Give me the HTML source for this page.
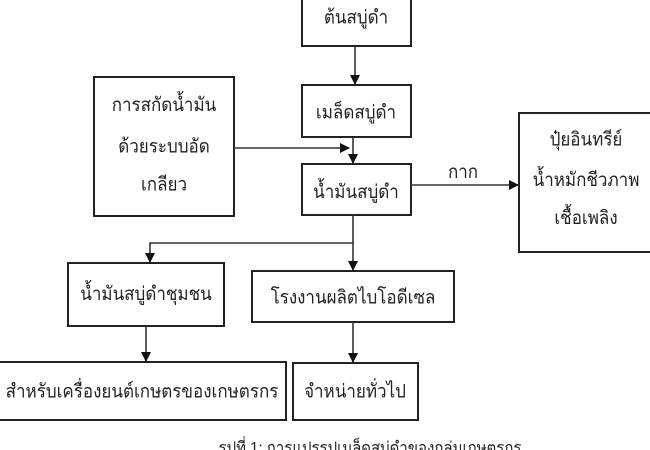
<!DOCTYPE html>
<html><head><meta charset="utf-8"><style>
html,body{margin:0;padding:0;background:#fff;width:650px;height:450px;overflow:hidden}
svg text{font-family:"Liberation Sans","Noto Sans CJK SC",sans-serif;font-size:17px;fill:#222;text-anchor:middle}
</style></head><body>
<svg width="650" height="450" viewBox="0 0 650 450" xmlns="http://www.w3.org/2000/svg">
<defs><marker id="a" markerWidth="10" markerHeight="10" refX="9" refY="5" orient="auto" markerUnits="userSpaceOnUse"><path d="M0,0 L10,5 L0,10 z" fill="#111"/></marker></defs>
<g fill="#fff" stroke="#222" stroke-width="2">
<rect x="302" y="-2" width="109" height="48"/>
<rect x="302" y="85" width="109" height="52"/>
<rect x="94" y="77" width="140" height="139"/>
<rect x="302" y="164" width="109" height="51"/>
<rect x="519" y="113" width="135" height="139"/>
<rect x="68" y="263" width="156" height="63"/>
<rect x="252" y="271" width="202" height="51"/>
<rect x="-2" y="362" width="288" height="58"/>
<rect x="293" y="363" width="125" height="57"/>
</g>
<g stroke="#333" stroke-width="1.6" fill="none">
<line x1="355" y1="46" x2="355" y2="84" marker-end="url(#a)"/>
<line x1="234" y1="148" x2="349" y2="148" marker-end="url(#a)"/>
<line x1="353" y1="137" x2="353" y2="163" marker-end="url(#a)"/>
<line x1="411" y1="185" x2="518" y2="185" marker-end="url(#a)"/>
<polyline points="353,215 353,243 150,243 150,262" marker-end="url(#a)"/>
<line x1="353" y1="243" x2="353" y2="270" marker-end="url(#a)"/>
<line x1="146" y1="326" x2="146" y2="361" marker-end="url(#a)"/>
<line x1="353" y1="322" x2="353" y2="362" marker-end="url(#a)"/>
</g>
<g transform="scale(1,1.12)">
<text x="356" y="21">ต้นสบู่ดำ</text>
<text x="356" y="106">เมล็ดสบู่ดำ</text>
<text x="164" y="99">การสกัดน้ำมัน</text>
<text x="164" y="136">ด้วยระบบอัด</text>
<text x="164" y="170">เกลียว</text>
<text x="356" y="177">น้ำมันสบู่ดำ</text>
<text x="463" y="159">กาก</text>
<text x="586" y="130">ปุ๋ยอินทรีย์</text>
<text x="586" y="166">น้ำหมักชีวภาพ</text>
<text x="586" y="200">เชื้อเพลิง</text>
<text x="146" y="268">น้ำมันสบู่ดำชุมชน</text>
<text x="353" y="271">โรงงานผลิตไบโอดีเซล</text>
<text x="142" y="355">สำหรับเครื่องยนต์เกษตรของเกษตรกร</text>
<text x="355" y="355">จำหน่ายทั่วไป</text>
<text x="370" y="405" style="font-size:15px">รูปที่ 1: การแปรรูปเมล็ดสบู่ดำของกลุ่มเกษตรกร</text>
</g>
</svg>
</body></html>
